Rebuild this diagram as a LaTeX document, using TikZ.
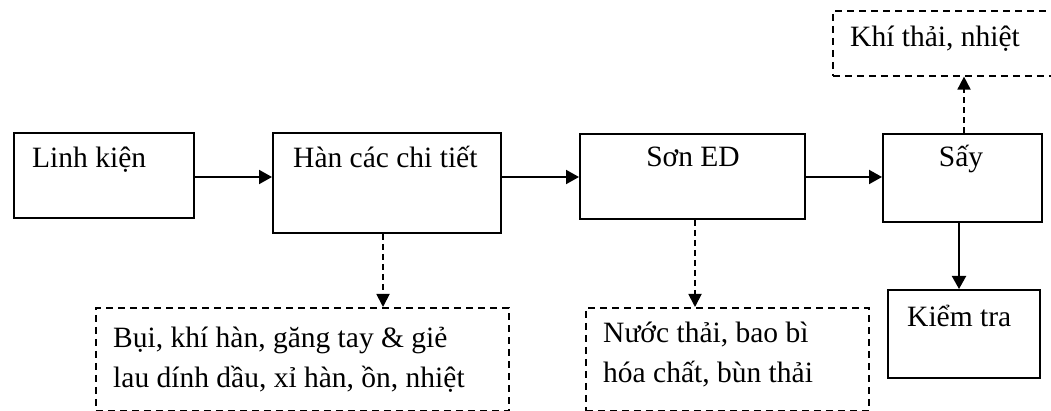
\documentclass[tikz,border=0pt]{standalone}
\usepackage{fontspec}
\setmainfont{Liberation Serif}
\usetikzlibrary{arrows.meta}
\tikzset{
  box/.style={draw, line width=2pt, inner sep=0pt, anchor=north west},
  wastebox/.style={draw, line width=1.6pt, dash pattern=on 7pt off 5pt, inner sep=0pt, anchor=north west},
  txt/.style={inner sep=0pt, anchor=base west, align=left, font=\fontsize{29.5}{40}\selectfont},
  flow/.style={line width=2pt, -{Triangle[length=13pt,width=14pt]}},
  waste/.style={line width=1.8pt, dash pattern=on 6pt off 4pt, -{Triangle[length=13pt,width=13pt]}}
}
\begin{document}
\begin{tikzpicture}[x=1pt,y=-1pt]
\clip (0,0) rectangle (1051,411);
\fill[white] (0,0) rectangle (1051,411);

% process boxes
\node[box, minimum width=180pt, minimum height=85pt] (lk) at (13,132) {};
\node[box, minimum width=228pt, minimum height=100pt] (han) at (272,132) {};
\node[box, minimum width=225pt, minimum height=85pt] (son) at (579,133) {};
\node[box, minimum width=159pt, minimum height=88pt] (say) at (882,133) {};
\node[box, minimum width=152pt, minimum height=88pt] (kt) at (887,289) {};

% waste boxes
\node[wastebox, minimum width=230pt, minimum height=65pt] (khi) at (832,10) {};
\node[wastebox, minimum width=413pt, minimum height=103pt] (bui) at (95,307) {};
\node[wastebox, minimum width=283pt, minimum height=103pt] (nuoc) at (585,307) {};

% labels (multi-line ones are placed by the baseline of their last line)
\node[txt] (lkt) at (32,168) {Linh kiện};
\node[txt] (hant) at (293,168) {Hàn các chi tiết};
\node[txt, anchor=base] (sont) at (693,167) {Sơn ED};
\node[txt, anchor=base] (sayt) at (961,167) {Sấy};
\node[txt] (ktt) at (907,326) {Kiểm tra};
\node[txt] (khit) at (850,47) {Khí thải, nhiệt};
\node[txt] (buit) at (113,387) {Bụi, khí hàn, găng tay \& giẻ\\lau dính dầu, xỉ hàn, ồn, nhiệt};
\node[txt] (nuoct) at (603,382) {Nước thải, bao bì\\hóa chất, bùn thải};

% main flow
\draw[flow] (lk.east |- 0,177) -- (han.west |- 0,177);
\draw[flow] (han.east |- 0,177) -- (son.west |- 0,177);
\draw[flow] (son.east |- 0,177) -- (say.west |- 0,177);
\draw[flow] (959,0 |- say.south) -- (959,0 |- kt.north);

% waste streams
\draw[waste] (383,0 |- han.south) -- (383,0 |- bui.north);
\draw[waste] (695,0 |- son.south) -- (695,0 |- nuoc.north);
\draw[waste] (964,0 |- say.north) -- (964,0 |- khi.south);
\end{tikzpicture}
\end{document}
